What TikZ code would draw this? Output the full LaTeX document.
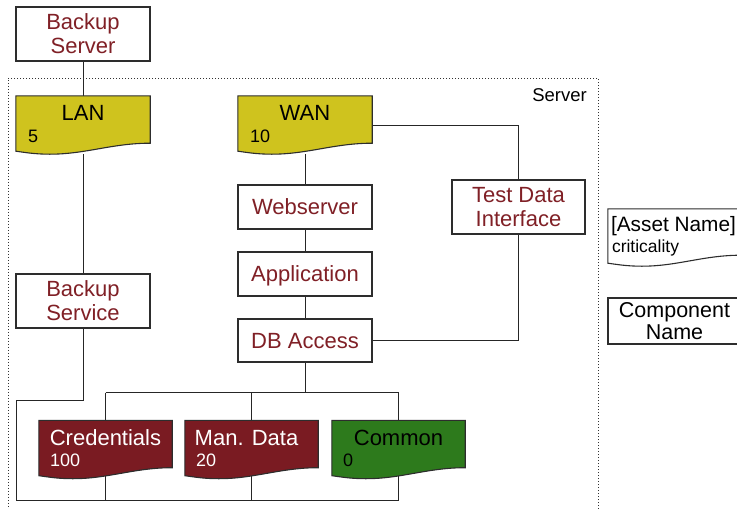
\documentclass[tikz,border=0pt]{standalone}
\usepackage{fontspec}
\setmainfont{Liberation Sans}
\usetikzlibrary{calc,backgrounds}

\definecolor{txtred}{RGB}{128,32,38}
\definecolor{assetyel}{RGB}{207,195,30}
\definecolor{assetred}{RGB}{122,27,34}
\definecolor{assetgrn}{RGB}{45,122,28}
\definecolor{edgegray}{RGB}{45,45,45}

\tikzset{
  comp/.style={draw=edgegray, line width=1.1pt, fill=white, minimum width=134pt,
    inner sep=0pt, align=center, text depth=0pt, text=txtred, font=\fontsize{22}{24}\selectfont},
  asset/.style={minimum width=134pt, minimum height=58pt, inner sep=0pt},
  assetname/.style={font=\fontsize{22}{24}\selectfont, inner sep=0pt, anchor=base},
  assetval/.style={font=\fontsize{18}{21}\selectfont, inner sep=0pt, anchor=base west},
  wire/.style={draw=black!85, line width=1pt},
  frame/.style={draw=black!80, line width=0.9pt, dash pattern=on 1.2pt off 1.8pt},
}

% document-shaped outline around an (invisible) asset node
\newcommand\docshape[2]{%
  \filldraw[draw=edgegray, line width=1.1pt, fill=#2]
    (#1.north west) -- (#1.north east) -- ($(#1.south east)+(0,-11)$)
    .. controls ($(#1.south east)+(-38,-11)$) and ($(#1.south west)+(70,0)$) .. ($(#1.south west)+(34,0)$)
    .. controls ($(#1.south west)+(18,0)$) and ($(#1.south west)+(8,-2)$) .. ($(#1.south west)+(0,-3)$)
    -- cycle;}

\begin{document}
\begin{tikzpicture}[x=1pt,y=-1pt]
\useasboundingbox (0,0) rectangle (737,509);
\clip (0,0) rectangle (737,509);

% server boundary
\node[frame, minimum width=590pt, minimum height=450pt, inner sep=0pt] (srv) at (303,303) {};
\node[font=\fontsize{18.5}{21}\selectfont, inner sep=0pt, anchor=base east] (srvlbl) at (587,101.5) {Server};

% components
\node[comp, minimum height=54pt] (bsrv) at (83,34) {Backup\\Server};
\node[comp, minimum height=44pt] (web) at (305,207) {Webserver};
\node[comp, minimum height=44pt] (app) at (305,274) {Application};
\node[comp, minimum height=43pt] (dba) at (305,340.5) {DB Access};
\node[comp, minimum height=54pt, minimum width=133pt] (tdi) at (518.5,207) {Test Data\\Interface};
\node[comp, minimum height=54pt] (bsvc) at (83,301) {Backup\\Service};

% assets (frames for the document outlines)
\node[asset] (lan) at (83,125) {};
\node[asset] (wan) at (305,125) {};
\node[asset, minimum width=133pt] (cred) at (105.5,449.5) {};
\node[asset, minimum width=133pt] (man) at (251.5,449.5) {};
\node[asset, minimum width=133pt] (com) at (398.5,449.5) {};

% bus helper points
\coordinate (busT) at ($(dba.south)+(0,30)$);
\coordinate (busB) at (16,500);
\coordinate (bkc) at (16,400);

% connectors
\begin{scope}[on background layer]
  \draw[wire] (bsrv) -- (lan);
  \draw[wire] (lan) -- (bsvc);
  \draw[wire] (wan) -- (web);
  \draw[wire] (web) -- (app);
  \draw[wire] (app) -- (dba);
  \draw[wire] (wan.east) -| (tdi.north);
  \draw[wire] (tdi.south) |- (dba.east);
  \draw[wire] (dba.south) -- (busT);
  \draw[wire] (cred.center |- busT) -- (com.center |- busT);
  \draw[wire] (cred.center |- busT) -- (cred.center |- busB);
  \draw[wire] (man.center |- busT) -- (man.center |- busB);
  \draw[wire] (com.center |- busT) -- (com.center |- busB);
  \draw[wire] (bsvc.south) |- (bkc) -- (busB) -- (com.center |- busB);
\end{scope}

% asset outlines
\docshape{lan}{assetyel}
\docshape{wan}{assetyel}
\docshape{cred}{assetred}
\docshape{man}{assetred}
\docshape{com}{assetgrn}

% asset labels
\node[assetname] (lanT) at ($(lan.north)+(0,25)$) {LAN};
\node[assetval] (lanV) at ($(lan.north west)+(12,47)$) {5};
\node[assetname] (wanT) at ($(wan.north)+(0,25)$) {WAN};
\node[assetval] (wanV) at ($(wan.north west)+(12,47)$) {10};
\node[assetname, text=white] (credT) at ($(cred.north)+(0,25)$) {Credentials};
\node[assetval, text=white] (credV) at ($(cred.north west)+(11,46)$) {100};
\node[assetname, text=white] (manT) at ($(man.north)+(-5,25)$) {Man. Data};
\node[assetval, text=white] (manV) at ($(man.north west)+(11,46)$) {20};
\node[assetname] (comT) at ($(com.north)+(0,25)$) {Common};
\node[assetval] (comV) at ($(com.north west)+(11,46)$) {0};

% legend
\node[asset, minimum width=133pt, minimum height=57pt] (lgA) at (674.5,237.5) {};
\docshape{lgA}{white}
\node[font=\fontsize{20.8}{24}\selectfont, inner sep=0pt, anchor=base] (lgAT) at ($(lgA.north)+(-1,23)$) {[Asset Name]};
\node[font=\fontsize{17.5}{20}\selectfont, inner sep=0pt, anchor=base west] (lgAV) at ($(lgA.north west)+(4,44)$) {criticality};
\node[comp, text=black, minimum height=46pt, minimum width=133pt, font=\fontsize{21.5}{21.5}\selectfont] (lgC) at (674.5,321) {Component\\Name};
\end{tikzpicture}
\end{document}
